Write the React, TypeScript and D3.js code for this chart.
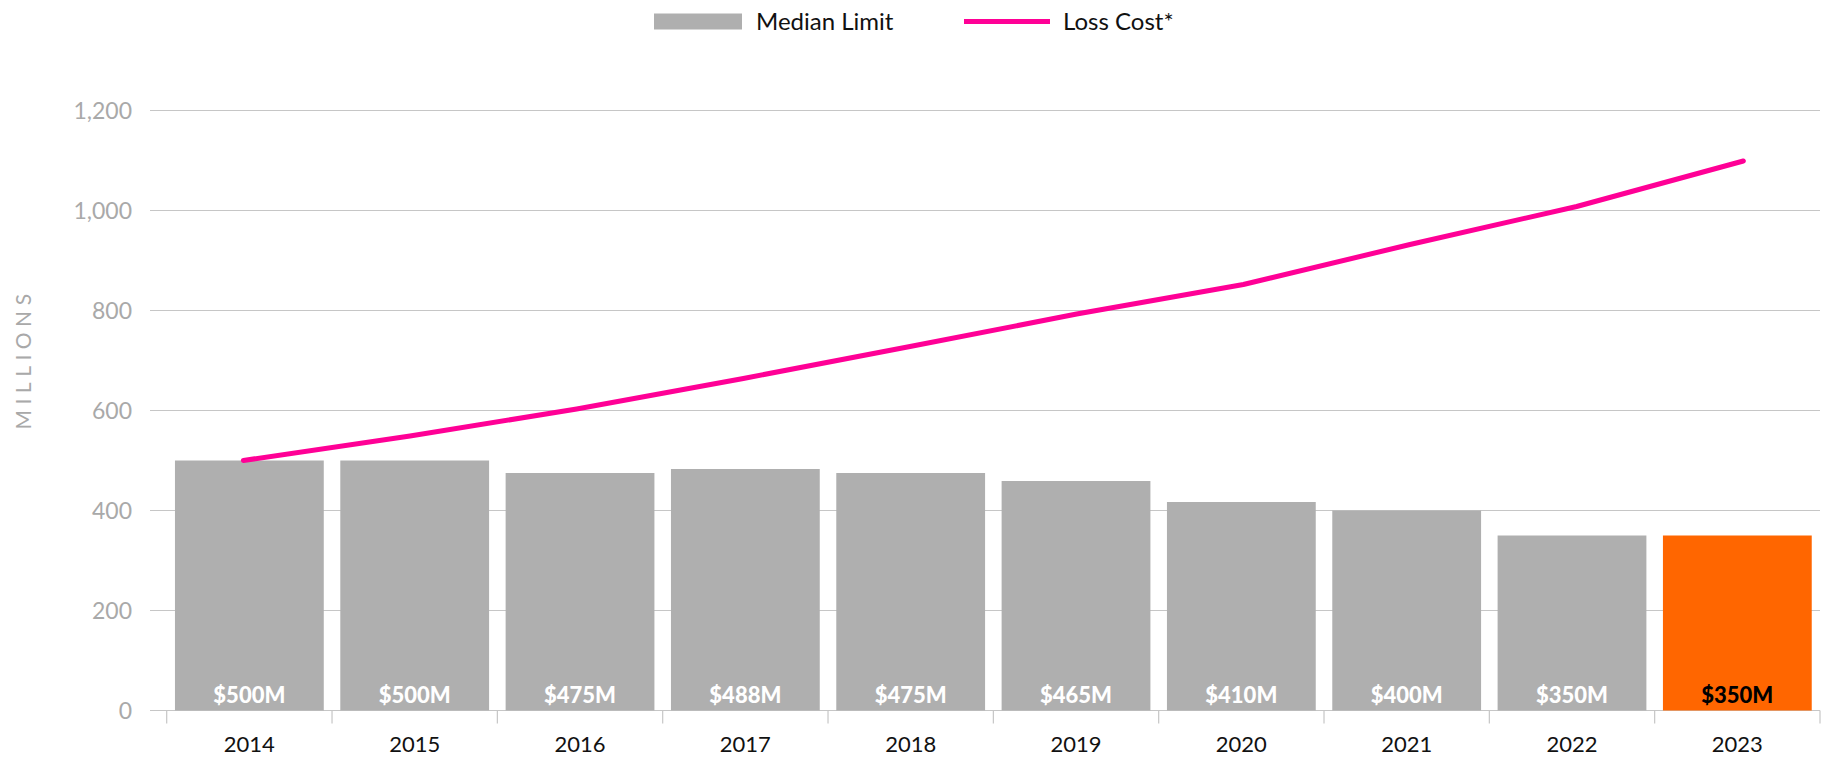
import React from "react";
import * as d3 from "d3";

const years = ["2014", "2015", "2016", "2017", "2018", "2019", "2020", "2021", "2022", "2023"];
const medianLimit = [500, 500, 475, 483, 475, 459, 417, 400, 350, 350];
const barLabels = ["$500M", "$500M", "$475M", "$488M", "$475M", "$465M", "$410M", "$400M", "$350M", "$350M"];
const lossCost = [500, 549, 603, 664, 728, 793, 852, 932, 1008, 1099];
const yTicks = [0, 200, 400, 600, 800, 1000, 1200];

const W = 1842;
const H = 758;
const FONT = "Lato, 'Open Sans', sans-serif";

export default function App() {
  const x0 = 166.7;
  const x1 = 1820;
  const gridLeft = 150;
  const x = d3.scaleBand<string>().domain(years).range([x0, x1]).paddingInner(0.1).paddingOuter(0.05);
  const xl = d3.scalePoint<string>().domain(years).range([x0, x1]).padding(0.46);
  const y = d3.scaleLinear().domain([0, 1200]).range([710.5, 110.5]);
  const step = (x1 - x0) / years.length;
  const tickXs = d3.range(years.length + 1).map((i) => x0 + i * step);

  const line = d3
    .line<number>()
    .x((_, i) => xl(years[i]) as number)
    .y((d) => y(d));

  return (
    <svg
      width={W}
      height={H}
      style={{ position: "absolute", left: 0, top: 0, background: "#fff" }}
      fontFamily={FONT}
    >
      {/* legend */}
      <rect x={654} y={13.5} width={88} height={16} fill="#afafaf" />
      <text x={756} y={21.5} dy="0.35em" fontSize={24} fill="#111">Median Limit</text>
      <line x1={964} x2={1050} y1={21.5} y2={21.5} stroke="#ff0096" strokeWidth={5} />
      <text x={1063} y={21.5} dy="0.35em" fontSize={24} fill="#111">Loss Cost*</text>

      {/* gridlines */}
      {yTicks.map((t) => (
        <line key={t} x1={gridLeft} x2={x1} y1={y(t)} y2={y(t)} stroke="#c6c6c6" strokeWidth={1.2} />
      ))}
      {/* y labels */}
      {yTicks.map((t) => (
        <text key={"l" + t} x={132} y={y(t)} dy="0.35em" textAnchor="end" fontSize={23} fill="#a9a9a9">
          {d3.format(",")(t)}
        </text>
      ))}
      <text
        transform={`translate(24,359) rotate(-90)`}
        textAnchor="middle"
        dy="0.35em"
        fontSize={21}
        letterSpacing={5.5}
        fill="#a9a9a9"
      >
        MILLIONS
      </text>

      {/* bars */}
      {years.map((yr, i) => (
        <rect
          key={yr}
          x={x(yr)}
          y={y(medianLimit[i])}
          width={x.bandwidth()}
          height={y(0) - y(medianLimit[i])}
          fill={i === years.length - 1 ? "#ff6600" : "#afafaf"}
        />
      ))}
      {/* x ticks */}
      {tickXs.map((tx, i) => (
        <line key={"t" + i} x1={tx} x2={tx} y1={y(0)} y2={y(0) + 13} stroke="#c6c6c6" strokeWidth={1.2} />
      ))}
      {years.map((yr) => (
        <text
          key={"x" + yr}
          x={(x(yr) as number) + x.bandwidth() / 2}
          y={751.5}
          textAnchor="middle"
          fontSize={22}
          fill="#111"
        >
          {yr}
        </text>
      ))}
      {/* bar labels */}
      {years.map((yr, i) => (
        <text
          key={"b" + yr}
          x={(x(yr) as number) + x.bandwidth() / 2}
          y={702.5}
          textAnchor="middle"
          fontSize={22}
          fontWeight={900}
          fill={i === years.length - 1 ? "#000" : "#fff"}
        >
          {barLabels[i]}
        </text>
      ))}

      {/* loss cost line */}
      <path d={line(lossCost) || ""} fill="none" stroke="#ff0096" strokeWidth={5} strokeLinecap="round" strokeLinejoin="round" />
    </svg>
  );
}
